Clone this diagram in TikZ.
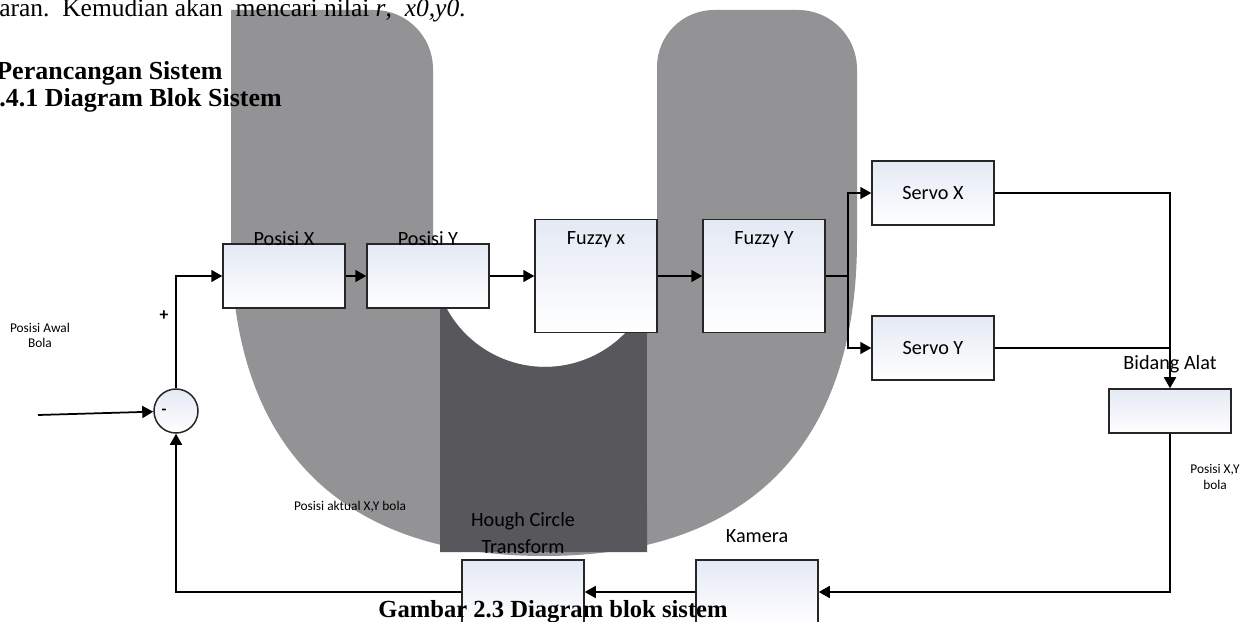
\documentclass[tikz,border=0pt]{standalone}
\usepackage{fontspec}
\setmainfont{Liberation Serif}
\newfontfamily\calibri{Carlito}
\usepackage{tikz}
\usetikzlibrary{arrows.meta,positioning,calc}

\definecolor{ugray}{RGB}{147,147,149}
\definecolor{udark}{RGB}{87,87,92}
\definecolor{boxtint}{RGB}{228,233,244}

\begin{document}
\begin{tikzpicture}[x=0.2mm, y=0.2mm,
  >={Triangle[length=2.2mm,width=2.4mm]},
  blok/.style={draw=black!85, line width=0.3mm, top color=boxtint, bottom color=white,
    minimum width=24.4mm, minimum height=12.8mm, inner sep=0pt,
    font=\calibri\fontsize{11.5}{14}\selectfont},
  lbl/.style={inner sep=0pt, font=\calibri\fontsize{11.5}{15.4}\selectfont},
  kecil/.style={inner sep=0pt, align=center, font=\calibri\fontsize{7.6}{8.6}\selectfont},
  teks/.style={inner sep=0pt, font=\fontsize{14.5}{17}\selectfont},
  judul/.style={inner sep=0pt, font=\fontsize{14.8}{17}\selectfont\bfseries},
  capt/.style={inner sep=0pt, font=\fontsize{14}{17}\selectfont\bfseries},
  conn/.style={->, line width=0.35mm},
  garis/.style={line width=0.35mm}]
\useasboundingbox (0,0) rectangle (1254,621);
\clip (0,0) rectangle (1254,621);

% big U shape in the background
\fill[ugray] (231,611) -- (374,611) arc[start angle=90, end angle=0, radius=59]
  -- (433,366) arc[start angle=180, end angle=360, radius=112]
  -- (657,554) arc[start angle=180, end angle=90, radius=57]
  -- (798,611) arc[start angle=90, end angle=0, radius=59]
  -- (857,381) .. controls (857,176) and (749,65) .. (544,65)
  .. controls (339,65) and (231,176) .. (231,381) -- cycle;
\fill[udark] (440,69) -- (440,327) arc[start angle=200.4, end angle=335.6, radius=112]
  -- (647,69) -- cycle;

% text of the page
\node[teks, anchor=base west] (baris) at (-1,604) {aran.\ \ Kemudian akan\ \ mencari nilai \textit{r},\ \ \textit{x0,y0}.};
\node[judul, anchor=base west] (judul1) at (-4,541) {Perancangan Sistem};
\node[judul, anchor=base west] (judul2) at (-1,514) {.4.1 Diagram Blok Sistem};

% blocks
\node[blok] (posx) at (284,345) {};
\node[blok] (posy) at (428,345) {};
\node[blok, minimum height=22.6mm] (fuzx) at (596,345) {};
\node[blok, minimum height=22.6mm] (fuzy) at (764,345) {};
\node[blok] (srvx) at (933,428) {Servo X};
\node[blok] (srvy) at (933,273) {Servo Y};
\node[blok, minimum height=8.8mm] (bidang) at (1170,210) {};
\node[blok] (kamera) at (757,29) {};
\node[blok] (hough) at (523,29) {};
\node[circle, draw=black!85, line width=0.3mm, top color=boxtint, bottom color=white,
  minimum size=8.8mm, inner sep=0pt] (sum) at (176,210) {};

% block labels
\node[lbl, anchor=base] (lposx) at ([yshift=-0.4mm]posx.north) {Posisi X};
\node[lbl, anchor=base] (lposy) at ([yshift=-0.4mm]posy.north) {Posisi Y};
\node[lbl, anchor=base] (lfuzx) at ([yshift=-5.2mm]fuzx.north) {Fuzzy x};
\node[lbl, anchor=base] (lfuzy) at ([yshift=-5.2mm]fuzy.north) {Fuzzy Y};
\node[lbl, anchor=base] (lbidang) at ([yshift=3.8mm]bidang.north) {Bidang Alat};
\node[lbl, anchor=base] (lkamera) at ([yshift=3.4mm]kamera.north) {Kamera};
\node[lbl, anchor=south, align=center] (lhough) at ([yshift=1mm]hough.north) {Hough Circle\\Transform};

% connectors
\coordinate (cabang) at (848,345);
\coordinate (masuk) at (38,206);
\draw[conn] (masuk) -- (sum);
\draw[conn] (sum) |- (posx);
\draw[conn] (posx) -- (posy);
\draw[conn] (posy) -- (fuzx);
\draw[conn] (fuzx) -- (fuzy);
\draw[garis] (fuzy) -- (cabang);
\draw[conn] (cabang) |- (srvx);
\draw[conn] (cabang) |- (srvy);
\draw[conn] (srvx) -| (bidang);
\draw[garis] (srvy.east) -- (srvy.east -| bidang);
\draw[conn] (bidang) |- (kamera);
\draw[conn] (kamera) -- (hough);
\draw[conn] (hough) -| (sum);

% small labels
\node[kecil] (awal) at (40,286) {Posisi Awal\\Bola};
\node[kecil] (aktual) at (350,114) {Posisi aktual X,Y bola};
\node[kecil] (posxy) at (1215,144) {Posisi X,Y\\bola};
\node[kecil, font=\calibri\fontsize{10}{12}\selectfont\bfseries] (plus) at (164,305) {+};
\node[kecil, font=\calibri\fontsize{9}{12}\selectfont\bfseries] (minus) at (164,209) {-};

% caption
\node[capt, anchor=base east] (caption) at (728,4) {Gambar 2.3 Diagram blok sistem};
\end{tikzpicture}
\end{document}
